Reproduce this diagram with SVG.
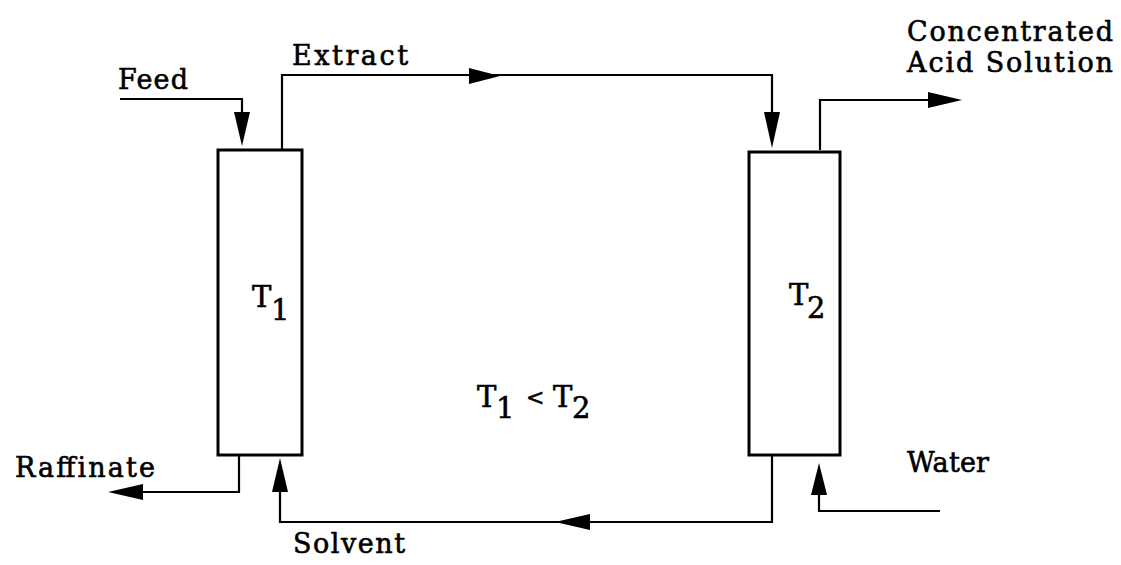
<svg xmlns="http://www.w3.org/2000/svg" width="1121" height="565" viewBox="0 0 1121 565">
<style>
.box{fill:none;stroke:#000;stroke-width:3}
.ln{fill:none;stroke:#000;stroke-width:2.2}
.ah{fill:#000;stroke:none}
text{font-family:"DejaVu Serif","Liberation Serif",serif;font-size:27px;fill:#000;stroke:#000;stroke-width:0.6}
.t{font-size:29px}
.lt{font-size:22px}
</style>
<rect width="1121" height="565" fill="#fff"/>
<g id="T1">
<rect class="box" x="218" y="150" width="84" height="305"/>
<text class="t" x="252" y="307">T<tspan x="271" y="320">1</tspan></text>
</g>
<g id="T2">
<rect class="box" x="749" y="152" width="91" height="303"/>
<text class="t" x="789" y="305">T<tspan x="807" y="318">2</tspan></text>
</g>
<g id="relation">
<text class="t" x="477" y="407">T<tspan x="496" y="418">1</tspan><tspan class="lt" x="526" y="405">&lt;</tspan><tspan x="553" y="407">T</tspan><tspan x="572" y="418">2</tspan></text>
</g>
<g id="connectors">
<path class="ln" d="M120,99 H242 V114"/>
<polygon class="ah" points="242,146 234,112 250,112"/>
<path class="ln" d="M282,150 V75 H772 V114"/>
<polygon class="ah" points="500,76 469,68 469,84"/>
<polygon class="ah" points="772,148 764,112 780,112"/>
<path class="ln" d="M820,150 V100 H930"/>
<polygon class="ah" points="962,100 928,92 928,108"/>
<path class="ln" d="M239,455 V492 H141"/>
<polygon class="ah" points="108,492 143,484 143,500"/>
<path class="ln" d="M772,455 V522 H280 V490"/>
<polygon class="ah" points="555,522 590,514 590,530"/>
<polygon class="ah" points="280,458 272,492 288,492"/>
<path class="ln" d="M940,511 H819 V493"/>
<polygon class="ah" points="819,463 811,495 827,495"/>
</g>
<g id="labels">
<text x="118" y="89" textLength="70" lengthAdjust="spacing">Feed</text>
<text x="292" y="65" textLength="116" lengthAdjust="spacing">Extract</text>
<text x="907" y="41" textLength="206" lengthAdjust="spacing">Concentrated</text>
<text x="907" y="72" textLength="206" lengthAdjust="spacing">Acid Solution</text>
<text x="15" y="477" textLength="140" lengthAdjust="spacing">Raffinate</text>
<text x="293" y="553" textLength="112" lengthAdjust="spacing">Solvent</text>
<text x="907" y="472" textLength="82" lengthAdjust="spacing">Water</text>
</g>
</svg>
